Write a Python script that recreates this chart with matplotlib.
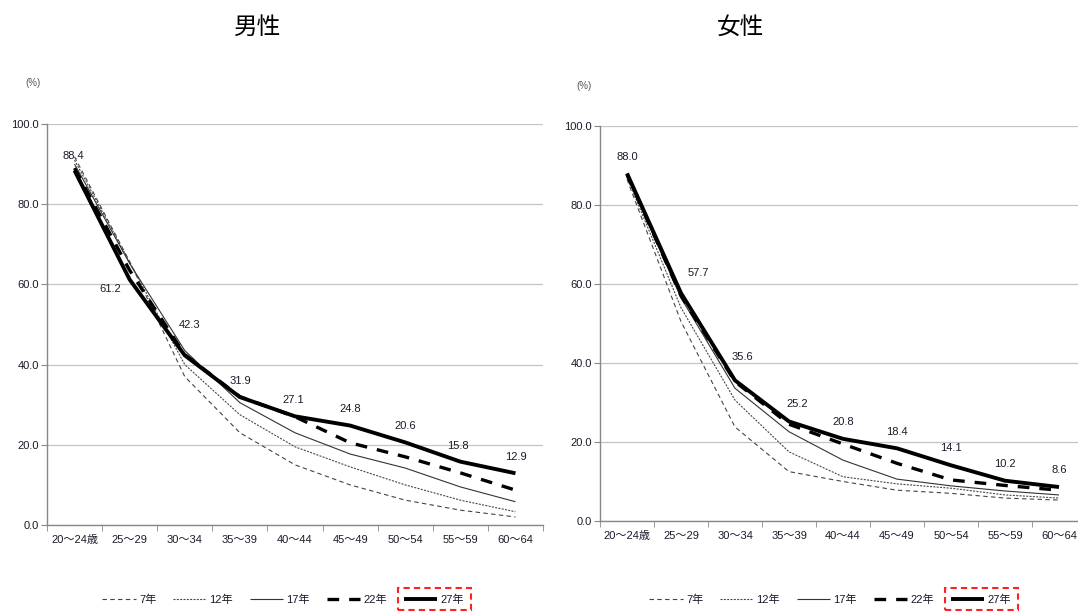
import matplotlib
matplotlib.use("Agg")
import matplotlib.pyplot as plt
from matplotlib.patches import Rectangle
from matplotlib.transforms import Bbox

plt.rcParams['font.family'] = ['Liberation Sans', 'Noto Sans CJK JP', 'DejaVu Sans']

# data
ages = ['20〜24歳', '25〜29', '30〜34', '35〜39', '40〜44', '45〜49', '50〜54', '55〜59', '60〜64']
years = ['7年', '12年', '17年', '22年', '27年']

male_h7 = [91.8, 65.7, 37.0, 23.0, 15.0, 10.0, 6.2, 3.7, 2.0]
male_h12 = [91.0, 65.5, 40.0, 27.5, 19.5, 14.5, 10.0, 6.2, 3.3]
male_h17 = [90.0, 65.2, 43.5, 30.5, 23.0, 17.7, 14.2, 9.5, 5.8]
male_h22 = [89.0, 63.5, 42.5, 32.0, 27.0, 20.5, 17.0, 13.0, 8.7]
male_h27 = [88.4, 61.2, 42.3, 31.9, 27.1, 24.8, 20.6, 15.8, 12.9]

female_h7 = [86.5, 50.5, 23.8, 12.5, 10.0, 7.8, 7.0, 5.8, 5.3]
female_h12 = [87.0, 54.0, 30.6, 17.5, 11.2, 9.4, 8.3, 6.6, 5.8]
female_h17 = [87.5, 56.5, 33.6, 22.6, 15.4, 10.6, 8.9, 7.6, 6.6]
female_h22 = [87.8, 57.0, 35.3, 24.5, 19.5, 14.6, 10.4, 9.0, 7.8]
female_h27 = [88.0, 57.7, 35.6, 25.2, 20.8, 18.4, 14.1, 10.2, 8.6]

# line styles for each year
styles = [
    dict(color='#444444', lw=0.8, dashes=(4, 3)),
    dict(color='#444444', lw=0.8, dashes=(1.8, 1.2)),
    dict(color='#333333', lw=0.8, ls='-'),
    dict(color='black', lw=2.4, dashes=(3.5, 3)),
    dict(color='black', lw=2.8, ls='-'),
]

# label offsets in pixels (dx, dy) for the 27年 values
male_off = [(-1, 15), (-19, -9), (5, 30), (0, 16), (-2, 16), (0, 17), (0, 16), (-2, 16), (0, 16)]
female_off = [(0, 16), (17, 20), (7, 23), (8, 17), (0, 17), (0, 16), (0, 17), (0, 17), (0, 17)]

fig = plt.figure(figsize=(10.78, 6.13), dpi=100)
W, H = 1078, 613
txt = '#1a1a2a'


def make_panel(rect, series, offs, title, title_x, pct_xy):
    ax = fig.add_axes(rect)
    x = list(range(len(ages)))
    for vals, st, lab in zip(series, styles, years):
        ax.plot(x, vals, label=lab, solid_capstyle='butt', **st)
    for i, v in enumerate(series[-1]):
        ax.annotate(f'{v:.1f}', (i, v), xytext=offs[i], textcoords='offset pixels',
                    ha='center', va='center', fontsize=8, color=txt)
    ax.set_xlim(-0.5, len(ages) - 0.5)
    ax.set_ylim(0, 100)
    ax.set_yticks([0, 20, 40, 60, 80, 100])
    ax.set_yticklabels([f'{t:.1f}' for t in [0, 20, 40, 60, 80, 100]])
    ax.set_xticks(x)
    ax.set_xticklabels(ages)
    ax.set_xticks([i + 0.5 for i in range(-1, len(ages))], minor=True)
    ax.tick_params(axis='x', which='major', length=0, pad=7, labelsize=8, labelcolor=txt)
    ax.tick_params(axis='x', which='minor', length=4, color='#888888')
    ax.tick_params(axis='y', length=4, color='#888888', labelsize=8, pad=2, labelcolor=txt)
    ax.yaxis.grid(True, color='#c4c4c4', lw=0.9)
    ax.set_axisbelow(True)
    for s in ['top', 'right']:
        ax.spines[s].set_visible(False)
    for s in ['left', 'bottom']:
        ax.spines[s].set_color('#888888')
        ax.spines[s].set_linewidth(1.0)
    fig.text(title_x / W, 1 - 27 / H, title, ha='center', va='center', fontsize=17,
             family=['Noto Sans CJK JP', 'DejaVu Sans'])
    fig.text(pct_xy[0] / W, 1 - pct_xy[1] / H, '(%)', ha='center', va='center',
             fontsize=7, color='#555555')
    return ax


axL = make_panel([47 / W, (613 - 525) / H, 496 / W, 401 / H],
                 [male_h7, male_h12, male_h17, male_h22, male_h27], male_off,
                 '男性', 258, (33, 83))
axR = make_panel([600 / W, (613 - 521) / H, 486 / W, 395 / H],
                 [female_h7, female_h12, female_h17, female_h22, female_h27], female_off,
                 '女性', 740, (584, 86))

legs = []
for ax, cx in [(axL, 283), (axR, 830)]:
    h, l = ax.get_legend_handles_labels()
    leg = fig.legend(h, l, loc='center', bbox_to_anchor=(cx / W, 1 - 600 / H), ncol=5,
                     frameon=False, fontsize=8, handlelength=3.0, handletextpad=0.3,
                     columnspacing=1.5, labelcolor=txt)
    legs.append(leg)

# red dashed box around the 27年 entry
fig.canvas.draw()
r = fig.canvas.get_renderer()
for leg in legs:
    bb = Bbox.union([leg.legend_handles[-1].get_window_extent(r),
                     leg.get_texts()[-1].get_window_extent(r)])
    fig.patches.append(Rectangle(((bb.x0 - 6) / W, (613 - 610) / H), (bb.width + 13) / W, 22 / H,
                                 transform=fig.transFigure, fill=False, ec='#ff2020',
                                 lw=1.5, ls=(0, (3, 2))))

fig.savefig('out.png', dpi=100)
